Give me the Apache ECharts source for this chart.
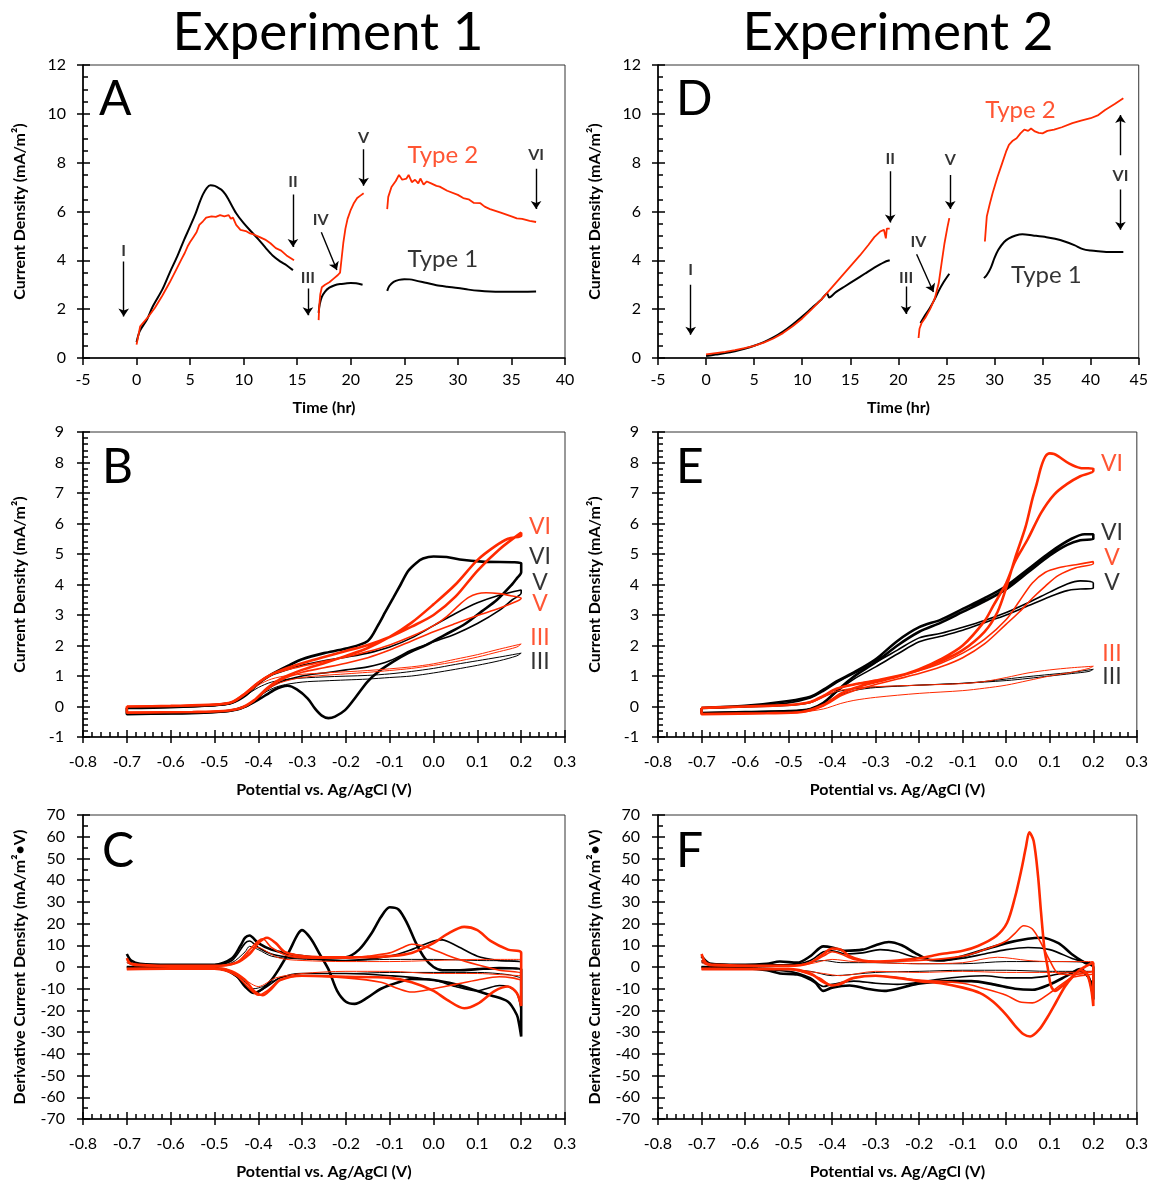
<!DOCTYPE html>
<html>
<head>
<meta charset="utf-8">
<script src="https://cdn.jsdelivr.net/npm/echarts@6/dist/echarts.min.js"></script>
<style>
html,body{margin:0;padding:0;background:#fff}
#chart{width:1151px;height:1184px}
</style>
</head>
<body>
<div id="chart"></div>
<script>
// ---------- Experiment 1: chronoamperometry (time in hr, current density in mA/m2) ----------
const exp1Type1Seg1 = [[0,0.65],[0.3,1.1],[1,1.6],[1.5,2.1],[2.4,2.8],[3.1,3.5],[3.8,4.16],[4.4,4.8],[5,5.39],[5.5,5.9],[5.86,6.34],[6.2,6.7],[6.55,6.96],[6.9,7.07],[7.3,7.05],[7.6,6.98],[7.93,6.89],[8.3,6.7],[8.6,6.48],[9.3,5.93],[10.0,5.52],[10.7,5.18],[11.4,4.85],[12.07,4.5],[12.7,4.2],[13.4,3.96],[14.0,3.8],[14.6,3.6]];
const exp1Type2Seg1 = [[0,0.55],[0.34,1.3],[1.03,1.65],[1.7,2.05],[2.4,2.55],[3.1,3.1],[3.8,3.7],[4.2,4.05],[4.5,4.3],[4.8,4.6],[5.0,4.75],[5.3,4.95],[5.6,5.15],[5.86,5.45],[6.2,5.6],[6.5,5.75],[7.0,5.8],[7.4,5.78],[7.8,5.85],[8.2,5.8],[8.6,5.85],[8.8,5.7],[9.0,5.75],[9.3,5.45],[9.7,5.25],[10.2,5.2],[10.6,5.1],[11.0,5.05],[11.5,4.95],[12.0,4.85],[12.5,4.7],[13.0,4.5],[13.5,4.4],[14.0,4.2],[14.7,4.0]];
const exp1Type1Seg2 = [[17.0,1.85],[17.1,2.2],[17.3,2.5],[17.6,2.72],[18.0,2.88],[18.5,2.98],[19.0,3.03],[19.5,3.05],[20.0,3.07],[20.5,3.06],[21.1,3.0]];
const exp1Type2Seg2 = [[17.0,1.55],[17.05,2.1],[17.15,2.6],[17.3,2.9],[17.6,3.0],[18.0,3.1],[18.4,3.25],[18.8,3.4],[19.0,3.5],[19.1,3.9],[19.3,4.7],[19.5,5.3],[19.7,5.7],[20.0,6.07],[20.3,6.35],[20.6,6.55],[20.9,6.65],[21.2,6.75]];
const exp1Type1Seg3 = [[23.4,2.75],[23.6,2.95],[24.0,3.12],[24.5,3.2],[25.0,3.23],[25.5,3.22],[26.0,3.18],[27.0,3.08],[28.0,2.98],[29.0,2.92],[30.0,2.87],[31.0,2.8],[32.0,2.75],[33.0,2.72],[34.0,2.71],[35.0,2.71],[36.0,2.71],[37.3,2.72]];
const exp1Type2Seg3 = [[23.4,6.1],[23.5,6.6],[23.8,7.0],[24.2,7.25],[24.5,7.5],[24.8,7.3],[25.2,7.35],[25.4,7.5],[25.7,7.2],[26.0,7.3],[26.3,7.15],[26.5,7.35],[26.8,7.1],[27.1,7.23],[27.5,7.15],[28.0,7.05],[28.3,7.02],[29.0,6.85],[30.0,6.68],[30.5,6.55],[31.0,6.5],[31.5,6.35],[32.1,6.34],[32.5,6.2],[33.0,6.1],[34.0,5.95],[35.0,5.8],[35.5,5.72],[36.0,5.7],[36.7,5.62],[37.3,5.57]];
const exp1StageLabels = [{name:'I',value:[-1.2,4.4]},{name:'II',value:[14.6,7.2]},{name:'III',value:[16.0,3.3]},{name:'IV',value:[17.2,5.65]},{name:'V',value:[21.2,9.0]},{name:'VI',value:[37.3,8.3]}];
const exp1StageArrows = [[[-1.2,3.95],[-1.2,1.7]],[[14.6,6.7],[14.6,4.55]],[[16.0,2.85],[16.0,1.75]],[[17.25,5.15],[18.7,3.6]],[[21.2,8.55],[21.2,7.05]],[[37.3,7.75],[37.3,6.1]]];
const exp1TypeLabels = [{name:'Type 2',value:[28.6,8.3]},{name:'Type 1',value:[28.6,4.05]}];

// ---------- Experiment 2: chronoamperometry ----------
const exp2Type1Seg1 = [[0,0.08],[1,0.14],[2,0.2],[3,0.28],[4,0.38],[5,0.5],[6,0.65],[7,0.84],[8,1.08],[9,1.37],[10,1.7],[11,2.05],[12,2.4],[12.6,2.64],[12.8,2.48],[13.5,2.7],[14.5,2.95],[15.5,3.2],[16.5,3.45],[17.5,3.7],[18.5,3.92],[19.1,4.0]];
const exp2Type2Seg1 = [[0,0.15],[1,0.2],[2,0.25],[3,0.32],[4,0.4],[5,0.5],[6,0.63],[7,0.8],[8,1.02],[9,1.3],[10,1.62],[11,2.0],[12,2.4],[13,2.85],[14,3.3],[15,3.75],[16,4.2],[16.9,4.64],[17.5,4.95],[18.1,5.18],[18.5,5.25],[18.7,4.9],[18.8,5.3],[19.1,5.3]];
const exp2Type1Seg2 = [[22.3,1.43],[22.7,1.7],[23.2,2.0],[23.7,2.35],[24.2,2.75],[24.7,3.1],[25.3,3.45]];
const exp2Type2Seg2 = [[22.1,0.82],[22.2,1.2],[22.4,1.42],[22.8,1.65],[23.3,2.0],[23.8,2.45],[24.2,3.07],[24.5,3.9],[24.8,4.7],[25.1,5.35],[25.3,5.73]];
const exp2Type1Seg3 = [[28.9,3.27],[29.2,3.4],[29.6,3.68],[30.0,4.1],[30.4,4.43],[31.0,4.75],[31.5,4.9],[32.2,5.02],[32.9,5.07],[34.0,5.02],[35.4,4.95],[36.3,4.88],[37.3,4.77],[38.3,4.62],[39.2,4.46],[40.0,4.4],[40.8,4.37],[42.0,4.34],[43.4,4.34]];
const exp2Type2Seg3 = [[29.0,4.77],[29.1,5.3],[29.2,5.8],[29.5,6.3],[29.8,6.75],[30.3,7.4],[30.8,7.98],[31.2,8.45],[31.5,8.73],[31.9,8.9],[32.3,9.0],[32.7,9.2],[33.1,9.35],[33.5,9.3],[33.8,9.4],[34.2,9.28],[34.6,9.22],[35.0,9.2],[35.5,9.3],[36.2,9.35],[37.0,9.45],[38.1,9.62],[39.0,9.72],[40.0,9.82],[40.8,9.95],[41.5,10.16],[42.5,10.4],[43.4,10.64]];
const exp2StageLabels = [{name:'I',value:[-1.6,3.6]},{name:'II',value:[19.15,8.15]},{name:'III',value:[20.8,3.3]},{name:'IV',value:[22.1,4.77]},{name:'V',value:[25.4,8.1]},{name:'VI',value:[43.1,7.46]}];
const exp2StageArrows = [[[-1.6,3.0],[-1.6,0.95]],[[19.15,7.65],[19.15,5.55]],[[20.8,2.93],[20.8,1.8]],[[21.9,4.25],[23.65,2.7]],[[25.4,7.5],[25.4,6.1]],[[43.1,8.3],[43.1,9.95]],[[43.1,6.9],[43.1,5.25]]];
const exp2TypeLabels = [{name:'Type 2',value:[32.7,10.16]},{name:'Type 1',value:[35.4,3.4]}];

// ---------- Cyclic voltammograms, Experiment 1 (potential V, current mA/m2) ----------
const cv1Type1III = [[-0.7,-0.05],[-0.6,-0.02],[-0.5,0.02],[-0.46,0.1],[-0.43,0.35],[-0.4,0.62],[-0.37,0.8],[-0.33,0.9],[-0.25,0.97],[-0.15,1.02],[-0.1,1.07],[-0.05,1.15],[0.0,1.25],[0.05,1.38],[0.1,1.5],[0.15,1.62],[0.2,1.75],[0.19,1.66],[0.15,1.5],[0.1,1.35],[0.05,1.22],[0.0,1.1],[-0.05,1.0],[-0.1,0.95],[-0.15,0.9],[-0.2,0.87],[-0.25,0.84],[-0.3,0.8],[-0.35,0.68],[-0.38,0.5],[-0.41,0.2],[-0.44,-0.05],[-0.48,-0.15],[-0.55,-0.2],[-0.7,-0.22],[-0.7,-0.05]];
const cv1Type1V = [[-0.7,-0.05],[-0.6,-0.02],[-0.5,0.03],[-0.46,0.12],[-0.43,0.4],[-0.4,0.75],[-0.37,1.02],[-0.33,1.22],[-0.3,1.35],[-0.25,1.5],[-0.2,1.62],[-0.15,1.75],[-0.1,1.95],[-0.05,2.25],[0.0,2.65],[0.05,3.05],[0.1,3.4],[0.15,3.65],[0.2,3.82],[0.2,3.72],[0.18,3.5],[0.15,3.15],[0.1,2.72],[0.05,2.38],[0.0,2.12],[-0.05,1.85],[-0.1,1.5],[-0.15,1.3],[-0.2,1.2],[-0.25,1.1],[-0.3,1.0],[-0.35,0.8],[-0.38,0.55],[-0.41,0.15],[-0.44,-0.08],[-0.48,-0.18],[-0.55,-0.22],[-0.7,-0.25],[-0.7,-0.05]];
const cv1Type1VI = [[-0.7,-0.05],[-0.6,-0.02],[-0.5,0.05],[-0.46,0.12],[-0.43,0.35],[-0.4,0.75],[-0.37,1.05],[-0.33,1.35],[-0.3,1.55],[-0.25,1.75],[-0.2,1.9],[-0.15,2.15],[-0.126,2.68],[-0.11,3.1],[-0.092,3.56],[-0.075,4.0],[-0.058,4.44],[-0.04,4.7],[-0.024,4.85],[0.0,4.92],[0.03,4.9],[0.06,4.82],[0.11,4.75],[0.2,4.7],[0.2,4.4],[0.19,4.2],[0.179,4.0],[0.145,3.5],[0.11,3.12],[0.069,2.68],[0.026,2.35],[-0.016,2.02],[-0.058,1.75],[-0.092,1.47],[-0.126,1.14],[-0.151,0.81],[-0.177,0.32],[-0.202,-0.12],[-0.225,-0.33],[-0.24,-0.38],[-0.255,-0.3],[-0.27,-0.08],[-0.287,0.26],[-0.312,0.56],[-0.333,0.68],[-0.346,0.65],[-0.363,0.55],[-0.38,0.4],[-0.397,0.25],[-0.43,0.0],[-0.465,-0.14],[-0.524,-0.2],[-0.6,-0.23],[-0.7,-0.25],[-0.7,-0.05]];
const cv1Type2III = [[-0.7,0.0],[-0.6,0.02],[-0.5,0.05],[-0.46,0.12],[-0.43,0.38],[-0.4,0.7],[-0.37,0.9],[-0.33,1.02],[-0.25,1.1],[-0.15,1.18],[-0.05,1.3],[0.0,1.4],[0.05,1.55],[0.1,1.7],[0.15,1.88],[0.2,2.05],[0.19,1.95],[0.15,1.8],[0.1,1.62],[0.05,1.47],[0.0,1.35],[-0.05,1.25],[-0.1,1.18],[-0.15,1.12],[-0.2,1.07],[-0.25,1.02],[-0.3,0.95],[-0.35,0.78],[-0.38,0.55],[-0.41,0.2],[-0.44,-0.05],[-0.48,-0.15],[-0.55,-0.18],[-0.7,-0.2],[-0.7,0.0]];
const cv1Type2V = [[-0.7,0.0],[-0.6,0.02],[-0.5,0.06],[-0.46,0.15],[-0.43,0.45],[-0.4,0.8],[-0.37,1.05],[-0.33,1.22],[-0.3,1.32],[-0.25,1.48],[-0.2,1.62],[-0.15,1.8],[-0.1,2.02],[-0.05,2.3],[0.0,2.65],[0.03,2.95],[0.06,3.35],[0.08,3.58],[0.1,3.7],[0.12,3.73],[0.15,3.7],[0.18,3.62],[0.2,3.55],[0.19,3.45],[0.15,3.22],[0.1,2.98],[0.05,2.72],[0.0,2.45],[-0.05,2.15],[-0.1,1.85],[-0.15,1.6],[-0.2,1.42],[-0.25,1.27],[-0.3,1.12],[-0.35,0.85],[-0.38,0.55],[-0.41,0.18],[-0.44,-0.06],[-0.48,-0.15],[-0.55,-0.18],[-0.7,-0.2],[-0.7,0.0]];
const cv1Type2VI = [[-0.7,0.0],[-0.6,0.02],[-0.5,0.06],[-0.46,0.15],[-0.43,0.42],[-0.4,0.78],[-0.37,1.05],[-0.33,1.28],[-0.3,1.42],[-0.25,1.62],[-0.2,1.82],[-0.15,2.02],[-0.1,2.28],[-0.05,2.62],[0.0,3.0],[0.05,3.6],[0.1,4.45],[0.15,5.15],[0.2,5.7],[0.2,5.6],[0.17,5.5],[0.14,5.25],[0.1,4.8],[0.05,4.0],[0.0,3.35],[-0.05,2.75],[-0.1,2.28],[-0.15,1.92],[-0.2,1.66],[-0.25,1.42],[-0.3,1.2],[-0.35,0.9],[-0.38,0.6],[-0.41,0.2],[-0.44,-0.05],[-0.48,-0.15],[-0.55,-0.18],[-0.7,-0.2],[-0.7,0.0]];
const cv1Labels = [{name:'VI',value:[0.243,5.89],red:true},{name:'VI',value:[0.243,4.93]},{name:'V',value:[0.243,4.05]},{name:'V',value:[0.243,3.36],red:true},{name:'III',value:[0.243,2.25],red:true},{name:'III',value:[0.243,1.46]}];

// ---------- Cyclic voltammograms, Experiment 2 ----------
const cv2Type1III = [[-0.7,-0.05],[-0.6,-0.02],[-0.5,0.03],[-0.45,0.12],[-0.42,0.32],[-0.39,0.48],[-0.35,0.58],[-0.3,0.64],[-0.2,0.7],[-0.1,0.76],[-0.05,0.82],[0.0,0.9],[0.05,0.98],[0.1,1.05],[0.15,1.12],[0.2,1.22],[0.19,1.15],[0.15,1.08],[0.1,1.0],[0.05,0.92],[0.0,0.85],[-0.1,0.76],[-0.2,0.7],[-0.3,0.62],[-0.35,0.52],[-0.39,0.32],[-0.42,0.08],[-0.45,-0.08],[-0.5,-0.15],[-0.6,-0.18],[-0.7,-0.2],[-0.7,-0.05]];
const cv2Type1V = [[-0.7,-0.05],[-0.6,0.0],[-0.5,0.12],[-0.45,0.28],[-0.42,0.5],[-0.39,0.78],[-0.35,1.08],[-0.3,1.45],[-0.25,1.85],[-0.2,2.25],[-0.15,2.4],[-0.1,2.6],[-0.05,2.82],[0.0,3.08],[0.05,3.4],[0.1,3.75],[0.14,4.02],[0.17,4.12],[0.2,4.05],[0.2,3.88],[0.17,3.85],[0.14,3.8],[0.1,3.6],[0.05,3.3],[0.0,3.0],[-0.05,2.75],[-0.1,2.5],[-0.15,2.3],[-0.2,2.12],[-0.25,1.72],[-0.3,1.3],[-0.35,0.9],[-0.39,0.48],[-0.42,0.12],[-0.45,-0.08],[-0.5,-0.15],[-0.6,-0.18],[-0.7,-0.2],[-0.7,-0.05]];
const cv2Type1VI = [[-0.7,-0.05],[-0.6,0.02],[-0.5,0.18],[-0.45,0.32],[-0.42,0.55],[-0.39,0.82],[-0.35,1.12],[-0.3,1.55],[-0.25,2.15],[-0.2,2.6],[-0.15,2.85],[-0.1,3.2],[-0.05,3.55],[0.0,3.95],[0.05,4.5],[0.1,5.05],[0.15,5.5],[0.18,5.65],[0.2,5.65],[0.2,5.5],[0.17,5.45],[0.14,5.3],[0.1,4.95],[0.05,4.4],[0.0,3.85],[-0.05,3.45],[-0.1,3.1],[-0.15,2.75],[-0.2,2.45],[-0.25,2.0],[-0.3,1.45],[-0.35,0.98],[-0.39,0.5],[-0.42,0.12],[-0.45,-0.08],[-0.5,-0.15],[-0.6,-0.18],[-0.7,-0.22],[-0.7,-0.05]];
const cv2Type2III = [[-0.7,-0.02],[-0.6,0.0],[-0.5,0.05],[-0.45,0.12],[-0.42,0.3],[-0.39,0.5],[-0.35,0.6],[-0.3,0.65],[-0.2,0.7],[-0.1,0.75],[-0.05,0.82],[0.0,0.95],[0.05,1.1],[0.1,1.2],[0.15,1.27],[0.2,1.32],[0.19,1.25],[0.15,1.12],[0.1,1.0],[0.05,0.85],[0.0,0.7],[-0.05,0.6],[-0.1,0.52],[-0.2,0.43],[-0.3,0.3],[-0.35,0.2],[-0.38,0.1],[-0.42,-0.08],[-0.47,-0.18],[-0.55,-0.22],[-0.7,-0.25],[-0.7,-0.02]];
const cv2Type2V = [[-0.7,-0.05],[-0.6,0.0],[-0.5,0.05],[-0.45,0.15],[-0.42,0.35],[-0.39,0.58],[-0.35,0.72],[-0.3,0.85],[-0.25,0.98],[-0.2,1.18],[-0.15,1.42],[-0.1,1.75],[-0.05,2.2],[0.0,2.85],[0.03,3.45],[0.06,4.05],[0.09,4.4],[0.12,4.55],[0.16,4.65],[0.2,4.75],[0.2,4.68],[0.16,4.55],[0.12,4.3],[0.09,3.95],[0.06,3.55],[0.03,3.1],[0.0,2.7],[-0.05,2.05],[-0.1,1.6],[-0.15,1.3],[-0.2,1.08],[-0.25,0.9],[-0.3,0.72],[-0.35,0.52],[-0.38,0.35],[-0.42,0.02],[-0.47,-0.18],[-0.55,-0.22],[-0.7,-0.25],[-0.7,-0.05]];
const cv2Type2VI = [[-0.7,-0.05],[-0.6,0.0],[-0.5,0.05],[-0.45,0.15],[-0.42,0.35],[-0.39,0.58],[-0.35,0.72],[-0.3,0.85],[-0.25,1.0],[-0.2,1.2],[-0.15,1.48],[-0.1,1.85],[-0.05,2.45],[-0.02,3.1],[0.0,3.9],[0.02,4.85],[0.044,5.87],[0.06,6.8],[0.07,7.3],[0.08,7.85],[0.09,8.2],[0.1,8.3],[0.11,8.28],[0.12,8.2],[0.145,7.96],[0.17,7.82],[0.2,7.8],[0.2,7.72],[0.17,7.55],[0.14,7.3],[0.11,6.95],[0.08,6.35],[0.05,5.5],[0.02,4.75],[0.0,4.05],[-0.03,3.3],[-0.05,2.8],[-0.1,2.0],[-0.15,1.55],[-0.2,1.22],[-0.25,0.98],[-0.3,0.8],[-0.35,0.6],[-0.38,0.42],[-0.42,0.05],[-0.47,-0.18],[-0.55,-0.22],[-0.7,-0.25],[-0.7,-0.05]];
const cv2Labels = [{name:'VI',value:[0.243,7.98],red:true},{name:'VI',value:[0.243,5.69]},{name:'V',value:[0.243,4.87],red:true},{name:'V',value:[0.243,4.05]},{name:'III',value:[0.243,1.72],red:true},{name:'III',value:[0.243,0.97]}];

// ---------- Derivative voltammograms, Experiment 1 (mA/m2.V) ----------
const dv1Type1III = [[-0.7,2],[-0.68,0.8],[-0.6,0.5],[-0.5,0.5],[-0.46,2],[-0.43,7],[-0.42,9.5],[-0.4,8],[-0.37,5],[-0.33,4],[-0.25,3.2],[-0.2,3],[-0.1,3.5],[0.0,3.5],[0.1,3],[0.2,2.5],[0.2,-5],[0.17,-3.5],[0.1,-2.5],[0.0,-2.5],[-0.1,-2.5],[-0.2,-3],[-0.3,-3],[-0.35,-5],[-0.39,-9],[-0.41,-10],[-0.44,-5],[-0.47,-1.5],[-0.5,-0.5],[-0.7,0]];
const dv1Type1V = [[-0.7,4],[-0.68,1],[-0.6,0.8],[-0.5,1],[-0.46,3],[-0.43,11],[-0.42,12],[-0.4,9],[-0.37,6],[-0.33,4.5],[-0.3,4],[-0.2,3],[-0.1,5],[-0.05,8],[0.0,12],[0.02,12.5],[0.05,10],[0.1,5],[0.15,3],[0.2,2],[0.2,-20],[0.19,-12],[0.17,-9],[0.15,-8.5],[0.12,-10],[0.1,-11],[0.05,-9],[0.0,-6],[-0.1,-4],[-0.2,-3],[-0.3,-3],[-0.35,-5],[-0.38,-9],[-0.41,-12],[-0.44,-6],[-0.47,-2],[-0.5,-0.5],[-0.7,0]];
const dv1Type1VI = [[-0.7,6],[-0.69,3],[-0.67,1.5],[-0.6,1],[-0.5,1],[-0.46,4],[-0.44,10],[-0.43,13.5],[-0.42,14.5],[-0.4,11],[-0.37,8],[-0.33,6],[-0.3,5],[-0.25,4],[-0.2,4.5],[-0.17,8],[-0.14,16],[-0.12,23],[-0.1,27.5],[-0.08,26.5],[-0.06,20],[-0.04,11],[-0.02,4],[0.0,0],[0.02,-1.5],[0.06,-1.5],[0.1,-1],[0.15,-0.5],[0.2,-1],[0.2,-32],[0.195,-26],[0.19,-22],[0.17,-16],[0.13,-13],[0.1,-11],[0.05,-8],[0.0,-6],[-0.05,-5.5],[-0.08,-7],[-0.12,-10],[-0.15,-14],[-0.18,-17],[-0.2,-16],[-0.22,-11],[-0.24,-1],[-0.26,6],[-0.28,13],[-0.3,17],[-0.31,15],[-0.33,7],[-0.35,0],[-0.37,-6],[-0.39,-10],[-0.41,-12],[-0.43,-9],[-0.45,-4],[-0.48,-1],[-0.55,-0.3],[-0.7,0]];
const dv1Type2III = [[-0.7,2],[-0.68,0.5],[-0.5,0.5],[-0.45,2],[-0.42,7],[-0.4,9],[-0.38,7],[-0.35,4],[-0.3,3],[-0.2,2.5],[-0.1,2.5],[0.0,3],[0.1,3.5],[0.2,3.5],[0.2,-4],[0.15,-3.5],[0.1,-3],[0.0,-3],[-0.1,-2],[-0.2,-2],[-0.3,-3],[-0.36,-5],[-0.4,-9],[-0.43,-6],[-0.47,-2],[-0.5,-0.5],[-0.7,-0.5]];
const dv1Type2V = [[-0.7,3],[-0.68,0.8],[-0.5,0.5],[-0.45,2],[-0.42,8],[-0.4,12],[-0.39,13],[-0.37,9],[-0.33,5],[-0.25,4],[-0.2,4],[-0.15,5],[-0.1,6.5],[-0.07,9],[-0.05,10.5],[-0.03,10],[0.0,8],[0.05,4],[0.1,1],[0.15,-1.5],[0.2,-3],[0.2,-6],[0.18,-5],[0.15,-4.5],[0.1,-6],[0.05,-8],[0.0,-10],[-0.05,-11.5],[-0.08,-10],[-0.12,-7],[-0.2,-5],[-0.3,-4],[-0.35,-6],[-0.38,-11],[-0.4,-13],[-0.42,-10],[-0.45,-4],[-0.5,-1],[-0.7,-1]];
const dv1Type2VI = [[-0.7,4],[-0.69,1.5],[-0.6,0.5],[-0.5,0.5],[-0.45,2],[-0.42,6],[-0.4,11],[-0.38,13.5],[-0.36,11],[-0.34,7],[-0.3,5],[-0.25,4.5],[-0.2,4.5],[-0.15,4.5],[-0.1,5],[-0.05,6.5],[0.0,11],[0.03,15],[0.07,18.5],[0.1,17],[0.13,12],[0.17,8],[0.2,6.5],[0.2,-18],[0.19,-12],[0.17,-9],[0.14,-11],[0.1,-17],[0.07,-19],[0.03,-15],[0.0,-11],[-0.05,-7],[-0.1,-5],[-0.2,-4.5],[-0.3,-4],[-0.35,-6],[-0.37,-10],[-0.39,-13],[-0.41,-11],[-0.43,-6],[-0.46,-2],[-0.5,-0.5],[-0.7,-1]];

// ---------- Derivative voltammograms, Experiment 2 ----------
const dv2Type1III = [[-0.7,2],[-0.6,0.8],[-0.5,0.5],[-0.42,3],[-0.38,2],[-0.3,2],[-0.2,1.5],[-0.1,1.5],[0.0,2.5],[0.1,2.5],[0.2,1.5],[0.2,-2],[0.1,-2],[0.0,-1.5],[-0.1,-1.5],[-0.2,-2],[-0.3,-2.5],[-0.4,-4],[-0.45,-2],[-0.55,-0.5],[-0.7,0]];
const dv2Type1V = [[-0.7,3],[-0.68,1],[-0.5,1],[-0.45,3],[-0.42,7],[-0.4,7.5],[-0.37,6],[-0.33,6.5],[-0.29,8],[-0.25,7],[-0.21,4.5],[-0.15,3],[-0.1,4],[-0.05,6],[0.0,8],[0.05,9],[0.1,8],[0.15,4],[0.2,0],[0.2,-8],[0.17,-2],[0.14,-2.5],[0.1,-4],[0.05,-5],[0.0,-5],[-0.05,-4],[-0.1,-4.5],[-0.15,-5.5],[-0.2,-7],[-0.25,-8],[-0.3,-7.5],[-0.35,-6.5],[-0.4,-8],[-0.42,-9],[-0.45,-5],[-0.5,-2],[-0.7,0]];
const dv2Type1VI = [[-0.7,5],[-0.68,1.5],[-0.6,1],[-0.55,1.5],[-0.52,2.5],[-0.48,2],[-0.45,5],[-0.42,9.5],[-0.4,9],[-0.37,7.5],[-0.33,8],[-0.3,10],[-0.27,11.5],[-0.24,10],[-0.21,6.5],[-0.18,3.5],[-0.15,3],[-0.1,5],[-0.05,8],[0.0,11],[0.05,13],[0.08,13.5],[0.12,11],[0.15,6],[0.18,2],[0.2,0],[0.2,-15],[0.19,-5],[0.17,-1],[0.14,-4],[0.1,-8],[0.06,-10.5],[0.02,-10],[-0.03,-8],[-0.08,-6.5],[-0.13,-6.5],[-0.17,-7],[-0.21,-8],[-0.25,-10],[-0.28,-11],[-0.32,-10],[-0.36,-8.5],[-0.4,-9.5],[-0.42,-11],[-0.44,-7],[-0.48,-3.5],[-0.52,-3],[-0.55,-1.5],[-0.6,-0.5],[-0.7,0]];
const dv2Type2III = [[-0.7,2],[-0.68,0.5],[-0.5,0.5],[-0.45,1.5],[-0.4,3.5],[-0.35,2.5],[-0.2,1.5],[-0.1,2],[-0.02,4.5],[0.05,3],[0.1,2.5],[0.2,2.5],[0.2,-2],[0.1,-2.5],[0.0,-2.5],[-0.1,-2],[-0.2,-2.5],[-0.3,-2],[-0.38,-4],[-0.42,-3],[-0.5,-1],[-0.7,-0.5]];
const dv2Type2V = [[-0.7,3],[-0.68,0.8],[-0.5,0.5],[-0.45,2],[-0.42,5],[-0.4,7],[-0.38,6],[-0.35,3.5],[-0.3,2.5],[-0.2,3],[-0.1,5],[-0.05,8],[0.0,12],[0.02,15.5],[0.04,19],[0.06,17.5],[0.08,11],[0.1,3],[0.12,-3],[0.15,-3.5],[0.2,-2],[0.2,-3],[0.15,-5],[0.1,-12],[0.06,-16.5],[0.03,-16],[0.0,-13],[-0.05,-10],[-0.1,-7.5],[-0.2,-6],[-0.3,-4],[-0.35,-5],[-0.38,-8],[-0.4,-8.5],[-0.43,-5],[-0.5,-1],[-0.7,-1]];
const dv2Type2VI = [[-0.7,6],[-0.69,2],[-0.67,1],[-0.5,0.5],[-0.45,2],[-0.42,6],[-0.4,8.5],[-0.38,8],[-0.36,5],[-0.33,3],[-0.3,2.5],[-0.25,3],[-0.2,4],[-0.15,6],[-0.1,7.5],[-0.065,9.7],[-0.023,14.3],[0.002,20.4],[0.02,32],[0.035,45],[0.045,55],[0.053,62],[0.063,58],[0.073,42],[0.08,25],[0.088,8],[0.095,0],[0.103,-8.8],[0.112,-11],[0.13,-8.5],[0.145,-5.7],[0.165,-2],[0.18,0],[0.2,2],[0.2,-18],[0.195,-10],[0.185,-3],[0.17,-1.5],[0.155,-4],[0.135,-9],[0.115,-16],[0.095,-23],[0.075,-29],[0.055,-32],[0.04,-31],[0.02,-27],[0.0,-22],[-0.03,-16],[-0.06,-12],[-0.1,-9.5],[-0.15,-7.5],[-0.2,-6.5],[-0.25,-5],[-0.3,-4],[-0.35,-5],[-0.38,-7.5],[-0.4,-8.5],[-0.42,-7],[-0.45,-3],[-0.5,-1],[-0.7,-1]];

// ---------- axis tick values ----------
const timeTicks1 = {min:-5, max:40, interval:5};
const timeTicks2 = {min:-5, max:45, interval:5};
const currentTicks = {min:0, max:12, interval:2};
const potentialTicks = {min:-0.8, max:0.3, interval:0.1};
const cvTicks = {min:-1, max:9, interval:1};
const derivTicks = {min:-70, max:70, interval:10};

const RED = '#ff2a00';
const BLACK = '#000000';
const FONT = 'Lato, "Open Sans", "DejaVu Sans", sans-serif';

// plot areas: A, D, B, E, C, F
const panels = [
  {left:83,  top:65,  height:293, x:timeTicks1, y:currentTicks, xMinor:0, yMinor:4, xName:'Time (hr)', yName:'Current Density (mA/m\u00B2)', xCross:false, xGap:42, xMargin:14, yMargin:17},
  {left:658, top:65,  height:293, x:timeTicks2, y:currentTicks, xMinor:0, yMinor:4, xName:'Time (hr)', yName:'Current Density (mA/m\u00B2)', xCross:false, xGap:42, xMargin:14, yMargin:17},
  {left:83,  top:432, height:305, x:potentialTicks, y:cvTicks, xMinor:5, yMinor:5, xName:'Potential vs. Ag/AgCl (V)', yName:'Current Density (mA/m\u00B2)', xCross:true, xGap:45, xMargin:17, yMargin:19, fixed:true},
  {left:658, top:432, height:305, x:potentialTicks, y:cvTicks, xMinor:5, yMinor:5, xName:'Potential vs. Ag/AgCl (V)', yName:'Current Density (mA/m\u00B2)', xCross:true, xGap:45, xMargin:17, yMargin:19, fixed:true},
  {left:83,  top:815, height:304, x:potentialTicks, y:derivTicks, xMinor:5, yMinor:2, xName:'Potential vs. Ag/AgCl (V)', yName:'Derivative Current Density (mA/m\u00B2\u2022V)', xCross:true, xGap:45, xMargin:17, yMargin:18, fixed:true},
  {left:658, top:815, height:304, x:potentialTicks, y:derivTicks, xMinor:5, yMinor:2, xName:'Potential vs. Ag/AgCl (V)', yName:'Derivative Current Density (mA/m\u00B2\u2022V)', xCross:true, xGap:45, xMargin:17, yMargin:18, fixed:true}
];
const WIDTH = 482;

const grid = [], xAxis = [], yAxis = [];
panels.forEach((p, i) => {
  grid.push({left:p.left, top:p.top, width:WIDTH, height:p.height, show:true, borderColor:'#333', borderWidth:1});
  const fmt = p.fixed ? (v => Math.abs(v) < 1e-9 ? '0.0' : v.toFixed(1)) : (v => String(Math.round(v)));
  // main x axis: line, labels, major ticks (inward with minor ticks where the panel has them)
  xAxis.push({type:'value', gridIndex:i, min:p.x.min, max:p.x.max, interval:p.x.interval, position:'bottom',
    axisLine:{show:true, onZero:false, lineStyle:{color:BLACK, width:1.6}},
    axisTick:{show:true, inside:p.xCross, length:7, lineStyle:{color:BLACK, width:1.5}},
    minorTick:{show:p.xMinor > 0, splitNumber:p.xMinor || 5, length:5, lineStyle:{color:BLACK, width:1.5}},
    splitLine:{show:false}, minorSplitLine:{show:false},
    axisLabel:{color:BLACK, fontSize:16, fontFamily:FONT, margin:p.xMargin, formatter:fmt, showMinLabel:true, showMaxLabel:true},
    name:p.xName, nameLocation:'middle', nameGap:p.xGap,
    nameTextStyle:{color:BLACK, fontSize:16, fontWeight:'bold', fontFamily:FONT}});
  // second x axis on the same line carrying the outward half of the major ticks
  xAxis.push({type:'value', gridIndex:i, min:p.x.min, max:p.x.max, interval:p.x.interval, position:'bottom', offset:0,
    axisLine:{show:false, onZero:false},
    axisTick:{show:p.xCross, inside:false, length:6, lineStyle:{color:BLACK, width:1.5}},
    minorTick:{show:false}, splitLine:{show:false}, axisLabel:{show:false}});
  // main y axis
  yAxis.push({type:'value', gridIndex:i, min:p.y.min, max:p.y.max, interval:p.y.interval, position:'left',
    axisLine:{show:true, onZero:false, lineStyle:{color:BLACK, width:1.6}},
    axisTick:{show:true, inside:true, length:7, lineStyle:{color:BLACK, width:1.5}},
    minorTick:{show:true, splitNumber:p.yMinor, length:5, lineStyle:{color:BLACK, width:1.5}},
    splitLine:{show:false}, minorSplitLine:{show:false},
    axisLabel:{color:BLACK, fontSize:16, fontFamily:FONT, margin:p.yMargin, showMinLabel:true, showMaxLabel:true},
    name:p.yName, nameLocation:'middle', nameGap:55, nameRotate:90,
    nameTextStyle:{color:BLACK, fontSize:16, fontWeight:'bold', fontFamily:FONT}});
  // second y axis on the same line carrying the outward half of the major ticks
  yAxis.push({type:'value', gridIndex:i, min:p.y.min, max:p.y.max, interval:p.y.interval, position:'left', offset:0,
    axisLine:{show:false, onZero:false},
    axisTick:{show:true, inside:false, length:6, lineStyle:{color:BLACK, width:1.5}},
    minorTick:{show:false}, splitLine:{show:false}, axisLabel:{show:false}});
});

const series = [];
function curve(panel, data, color, width, smooth) {
  series.push({type:'line', xAxisIndex:panel*2, yAxisIndex:panel*2, data:data, showSymbol:false, symbol:'none',
    smooth:smooth, lineStyle:{color:color, width:width}, silent:true, animation:false});
}
function texts(panel, items, color, size, weight) {
  series.push({type:'scatter', xAxisIndex:panel*2, yAxisIndex:panel*2, data:items, symbolSize:1,
    itemStyle:{color:'rgba(0,0,0,0)'}, silent:true, animation:false, z:5,
    label:{show:true, position:'inside', formatter:'{b}', color:color, fontSize:size, fontWeight:weight, fontFamily:FONT}});
}
function arrows(panel, list) {
  series.push({type:'lines', coordinateSystem:'cartesian2d', xAxisIndex:panel*2, yAxisIndex:panel*2,
    data:list.map(c => ({coords:c})), symbol:['none','arrow'], symbolSize:8,
    lineStyle:{color:BLACK, width:1.4, opacity:1, curveness:0}, silent:true, animation:false, z:4});
}

// Panel A
[exp1Type1Seg1, exp1Type1Seg2, exp1Type1Seg3].forEach(d => curve(0, d, BLACK, 2, 0.3));
[exp1Type2Seg1, exp1Type2Seg2, exp1Type2Seg3].forEach(d => curve(0, d, RED, 1.8, false));
arrows(0, exp1StageArrows);
texts(0, exp1StageLabels, BLACK, 16, 'bold');
texts(0, [exp1TypeLabels[0]], RED, 24, 'normal');
texts(0, [exp1TypeLabels[1]], BLACK, 24, 'normal');
// Panel D
[exp2Type1Seg1, exp2Type1Seg2, exp2Type1Seg3].forEach(d => curve(1, d, BLACK, 2, 0.3));
[exp2Type2Seg1, exp2Type2Seg2, exp2Type2Seg3].forEach(d => curve(1, d, RED, 1.8, false));
arrows(1, exp2StageArrows);
texts(1, exp2StageLabels, BLACK, 16, 'bold');
texts(1, [exp2TypeLabels[0]], RED, 24, 'normal');
texts(1, [exp2TypeLabels[1]], BLACK, 24, 'normal');
// Panel B
curve(2, cv1Type1III, BLACK, 1, 0.3); curve(2, cv1Type1V, BLACK, 1.6, 0.3); curve(2, cv1Type1VI, BLACK, 2.6, 0.3);
curve(2, cv1Type2III, RED, 1, 0.3); curve(2, cv1Type2V, RED, 1.6, 0.3); curve(2, cv1Type2VI, RED, 2.6, 0.3);
texts(2, cv1Labels.filter(d => d.red), RED, 23, 'normal');
texts(2, cv1Labels.filter(d => !d.red), BLACK, 23, 'normal');
// Panel E
curve(3, cv2Type1III, BLACK, 1, 0.3); curve(3, cv2Type1V, BLACK, 1.6, 0.3); curve(3, cv2Type1VI, BLACK, 2.6, 0.3);
curve(3, cv2Type2III, RED, 1, 0.3); curve(3, cv2Type2V, RED, 1.6, 0.3); curve(3, cv2Type2VI, RED, 2.6, 0.3);
texts(3, cv2Labels.filter(d => d.red), RED, 23, 'normal');
texts(3, cv2Labels.filter(d => !d.red), BLACK, 23, 'normal');
// Panel C
curve(4, dv1Type1III, BLACK, 1, 0.3); curve(4, dv1Type1V, BLACK, 1.6, 0.3); curve(4, dv1Type1VI, BLACK, 2.6, 0.3);
curve(4, dv1Type2III, RED, 1, 0.3); curve(4, dv1Type2V, RED, 1.6, 0.3); curve(4, dv1Type2VI, RED, 2.6, 0.3);
// Panel F
curve(5, dv2Type1III, BLACK, 1, 0.3); curve(5, dv2Type1V, BLACK, 1.6, 0.3); curve(5, dv2Type1VI, BLACK, 2.6, 0.3);
curve(5, dv2Type2III, RED, 1, 0.3); curve(5, dv2Type2V, RED, 1.6, 0.3); curve(5, dv2Type2VI, RED, 2.6, 0.3);

const headings = [
  {type:'text', x:328, y:33, style:{text:'Experiment 1', font:'53px ' + FONT, fill:BLACK, textAlign:'center', textVerticalAlign:'middle'}},
  {type:'text', x:898, y:33, style:{text:'Experiment 2', font:'53px ' + FONT, fill:BLACK, textAlign:'center', textVerticalAlign:'middle'}}
];
const panelLetters = [['A',99,100],['D',676,100],['B',102,468],['E',676,468],['C',102,852],['F',676,852]].map(l => (
  {type:'text', x:l[1], y:l[2], style:{text:l[0], font:'48px ' + FONT, fill:BLACK, textAlign:'left', textVerticalAlign:'middle'}}
));

const chart = echarts.init(document.getElementById('chart'), null, {renderer:'canvas'});
chart.setOption({
  backgroundColor:'#ffffff',
  animation:false,
  grid:grid, xAxis:xAxis, yAxis:yAxis, series:series,
  graphic:headings.concat(panelLetters)
});
</script>
</body>
</html>
